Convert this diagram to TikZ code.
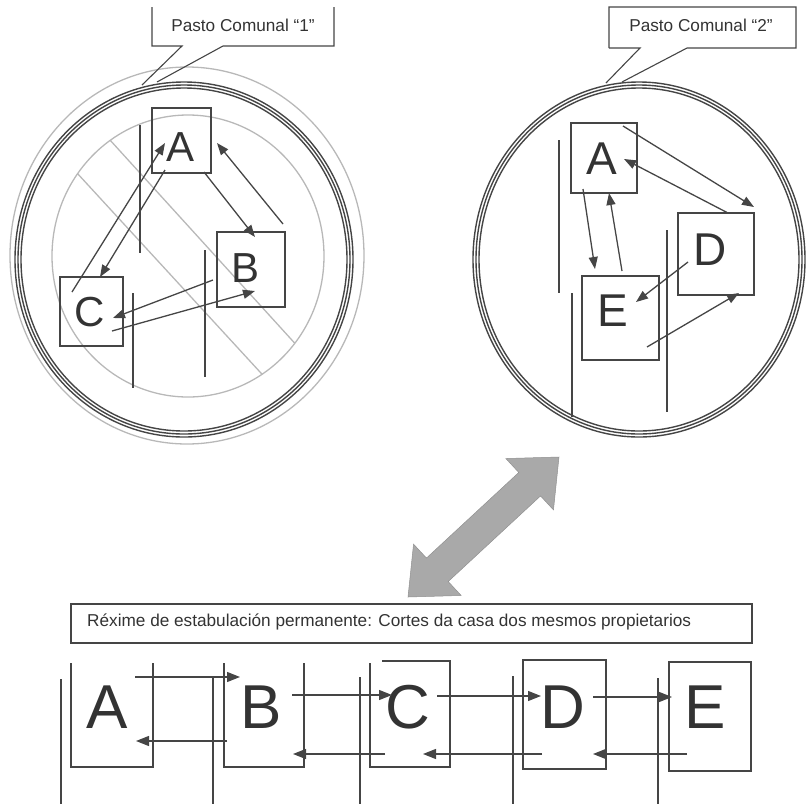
\documentclass[tikz,border=0pt]{standalone}
\usepackage{fontspec}
\setmainfont{Liberation Sans}
\usetikzlibrary{arrows.meta,calc}
\definecolor{ink}{HTML}{454545}
\definecolor{txt}{HTML}{333333}
\definecolor{ring}{HTML}{B8B8B8}
\definecolor{bigarrow}{HTML}{A9A9A9}
\begin{document}
\begin{tikzpicture}[x=1pt,y=-1pt,
  ln/.style={draw=ink, line width=1.1pt},
  arr/.style={draw=ink, line width=1.3pt, -{Triangle[length=12pt,width=9pt]}},
  harr/.style={draw=ink, line width=1.3pt, -{Triangle[length=13pt,width=10pt]}},
  box/.style={draw=ink, line width=1.1pt, inner sep=0pt},
  trip/.style={draw=ink, line width=1.4pt},
  graycirc/.style={draw=ring, line width=1.3pt},
  lettS/.style={text=txt, inner sep=0pt, font=\fontsize{42}{42}\selectfont},
  lettM/.style={text=txt, inner sep=0pt, font=\fontsize{46}{46}\selectfont},
  lettL/.style={text=txt, inner sep=0pt, font=\fontsize{62}{62}\selectfont},
  caption/.style={text=txt, inner sep=0pt, font=\fontsize{17.2}{17.2}\selectfont}]
\useasboundingbox (0,0) rectangle (807,804);

% ---------------- left panel: prohibition sign ----------------
\draw[graycirc] (187,255.5) ellipse [x radius=177, y radius=188.5];
\draw[graycirc] (188,256) ellipse [x radius=136, y radius=141];
\begin{scope}
  \clip (188,256) ellipse [x radius=136, y radius=141];
  \draw[graycirc] (59.6,84.6) -- (340.4,393.4);
  \draw[graycirc] (22.1,113.3) -- (314.9,431.7);
\end{scope}

% triple circle left
\draw[trip] (184,259.5) ellipse [x radius=169, y radius=177.5];
\draw[trip] (184,259.5) ellipse [x radius=166, y radius=174.5];
\draw[trip] (184,259.5) ellipse [x radius=163, y radius=171.5];

% callout 1
\draw[ln] (152,7) -- (152,46) -- (182,46) -- (142,85);
\draw[ln] (157,82) -- (223,46) -- (334,46) -- (334,7);
\node[caption] (cap1) at (243,25) {Pasto Comunal “1”};

% vertical lines left
\draw[ln] (140,125) -- (140,253);
\draw[ln] (205,250) -- (205,377);
\draw[ln] (133,293) -- (133,388);

% boxes left
\node[box, minimum width=59pt, minimum height=65pt] (lA) at (181.5,140.5) {};
\node[box, minimum width=68pt, minimum height=75pt] (lB) at (251,269.5) {};
\node[box, minimum width=63pt, minimum height=69pt] (lC) at (91.5,311.5) {};
\node[lettS] (lAt) at (180.5,147.5) {A};
\node[lettS] (lBt) at (246,268.5) {B};
\node[lettS] (lCt) at (90,312.5) {C};

\foreach \n/\px/\py in {l1/72/292, l2/165/143, l3/165/170, l4/100/277,
  l5/204/172, l6/255/237, l7/283/224, l8/217/143,
  l9/213/280, l10/113/318, l11/112/331, l12/255/291}
  \coordinate (\n) at (\px,\py);
\draw[arr] (l1) -- (l2);
\draw[arr] (l3) -- (l4);
\draw[arr] (l5) -- (l6);
\draw[arr] (l7) -- (l8);
\draw[arr] (l9) -- (l10);
\draw[arr] (l11) -- (l12);

% ---------------- right panel ----------------
\draw[trip] (639,259.5) ellipse [x radius=166, y radius=177.5];
\draw[trip] (639,259.5) ellipse [x radius=163, y radius=174.5];
\draw[trip] (639,259.5) ellipse [x radius=160, y radius=171.5];

\draw[ln] (609,48) -- (609,7) -- (796,7) -- (796,48) -- (687,48) -- (622,82);
\draw[ln] (609,48) -- (640,48) -- (606,83);
\node[caption] (cap2) at (701,25) {Pasto Comunal “2”};

\draw[ln] (559,140) -- (559,293);
\draw[ln] (572,293) -- (572,417);
\draw[ln] (667,230) -- (667,412);

\node[box, minimum width=66pt, minimum height=70pt] (rA) at (604,158) {};
\node[box, minimum width=76pt, minimum height=82pt] (rD) at (716,254) {};
\node[box, minimum width=77pt, minimum height=84pt] (rE) at (620.5,318) {};
\node[lettM] (rAt) at (601.5,158.5) {A};
\node[lettM] (rDt) at (710,250) {D};
\node[lettM] (rEt) at (612.5,310.5) {E};

\foreach \n/\px/\py in {r1/623/126, r2/754/207, r3/728/213, r4/624/159,
  r5/583/189, r6/595/269, r7/622/271, r8/609/193,
  r9/688/262, r10/636/302, r11/647/347, r12/739/293}
  \coordinate (\n) at (\px,\py);
\draw[arr] (r1) -- (r2);
\draw[arr] (r3) -- (r4);
\draw[arr] (r5) -- (r6);
\draw[arr] (r7) -- (r8);
\draw[arr] (r9) -- (r10);
\draw[arr] (r11) -- (r12);

% ---------------- big double arrow ----------------
\fill[bigarrow, draw=bigarrow!85!black, line width=0.5pt]
  (559,457) -- (553.46,509.87) -- (540.54,495.93) -- (448.22,581.53)
  -- (461.14,595.47) -- (408,597) -- (413.54,544.13) -- (426.46,558.07)
  -- (518.78,472.47) -- (505.86,458.53) -- cycle;

% ---------------- bottom: permanent stabling ----------------
\node[box, minimum width=681pt, minimum height=39pt] (title) at (411.5,623.5) {};
\node[caption, anchor=west] (titletext) at (87,622)
  {Réxime de estabulación permanente: Cortes da casa dos mesmos propietarios};

% long vertical lines
\draw[ln] (61,679) -- (61,804);
\draw[ln] (213,677) -- (213,804);
\draw[ln] (360,677) -- (360,804);
\draw[ln] (513,676) -- (513,804);
\draw[ln] (658,678) -- (658,804);

% stalls
\draw[ln] (71,663) -- (71,767) -- (153,767) -- (153,663);
\draw[ln] (224,663) -- (224,767) -- (304,767) -- (304,663);
\draw[ln] (382,661) -- (450,661) -- (450,767) -- (370,767) -- (370,663);
\node[box, minimum width=83pt, minimum height=109pt] (bD) at (564.5,714.5) {};
\node[box, minimum width=82pt, minimum height=109pt] (bE) at (710,716.5) {};

\node[lettL] (bAt) at (107,707) {A};
\node[lettL] (bBt) at (261,707) {B};
\node[lettL] (bCt) at (408,707) {C};
\node[lettL] (bDt) at (563,707) {D};
\node[lettL] (bEt) at (705,707) {E};

\foreach \n/\px/\py in {b1/135/677, b2/240/677, b3/227/741, b4/136/741,
  b5/292/695, b6/392/695, b7/385/754, b8/293/754,
  b9/437/696, b10/541/696, b11/542/754, b12/423/754,
  b13/593/697, b14/672/697, b15/687/754, b16/593/754}
  \coordinate (\n) at (\px,\py);
\draw[harr] (b1) -- (b2);
\draw[harr] (b3) -- (b4);
\draw[harr] (b5) -- (b6);
\draw[harr] (b7) -- (b8);
\draw[harr] (b9) -- (b10);
\draw[harr] (b11) -- (b12);
\draw[harr] (b13) -- (b14);
\draw[harr] (b15) -- (b16);
\end{tikzpicture}
\end{document}
